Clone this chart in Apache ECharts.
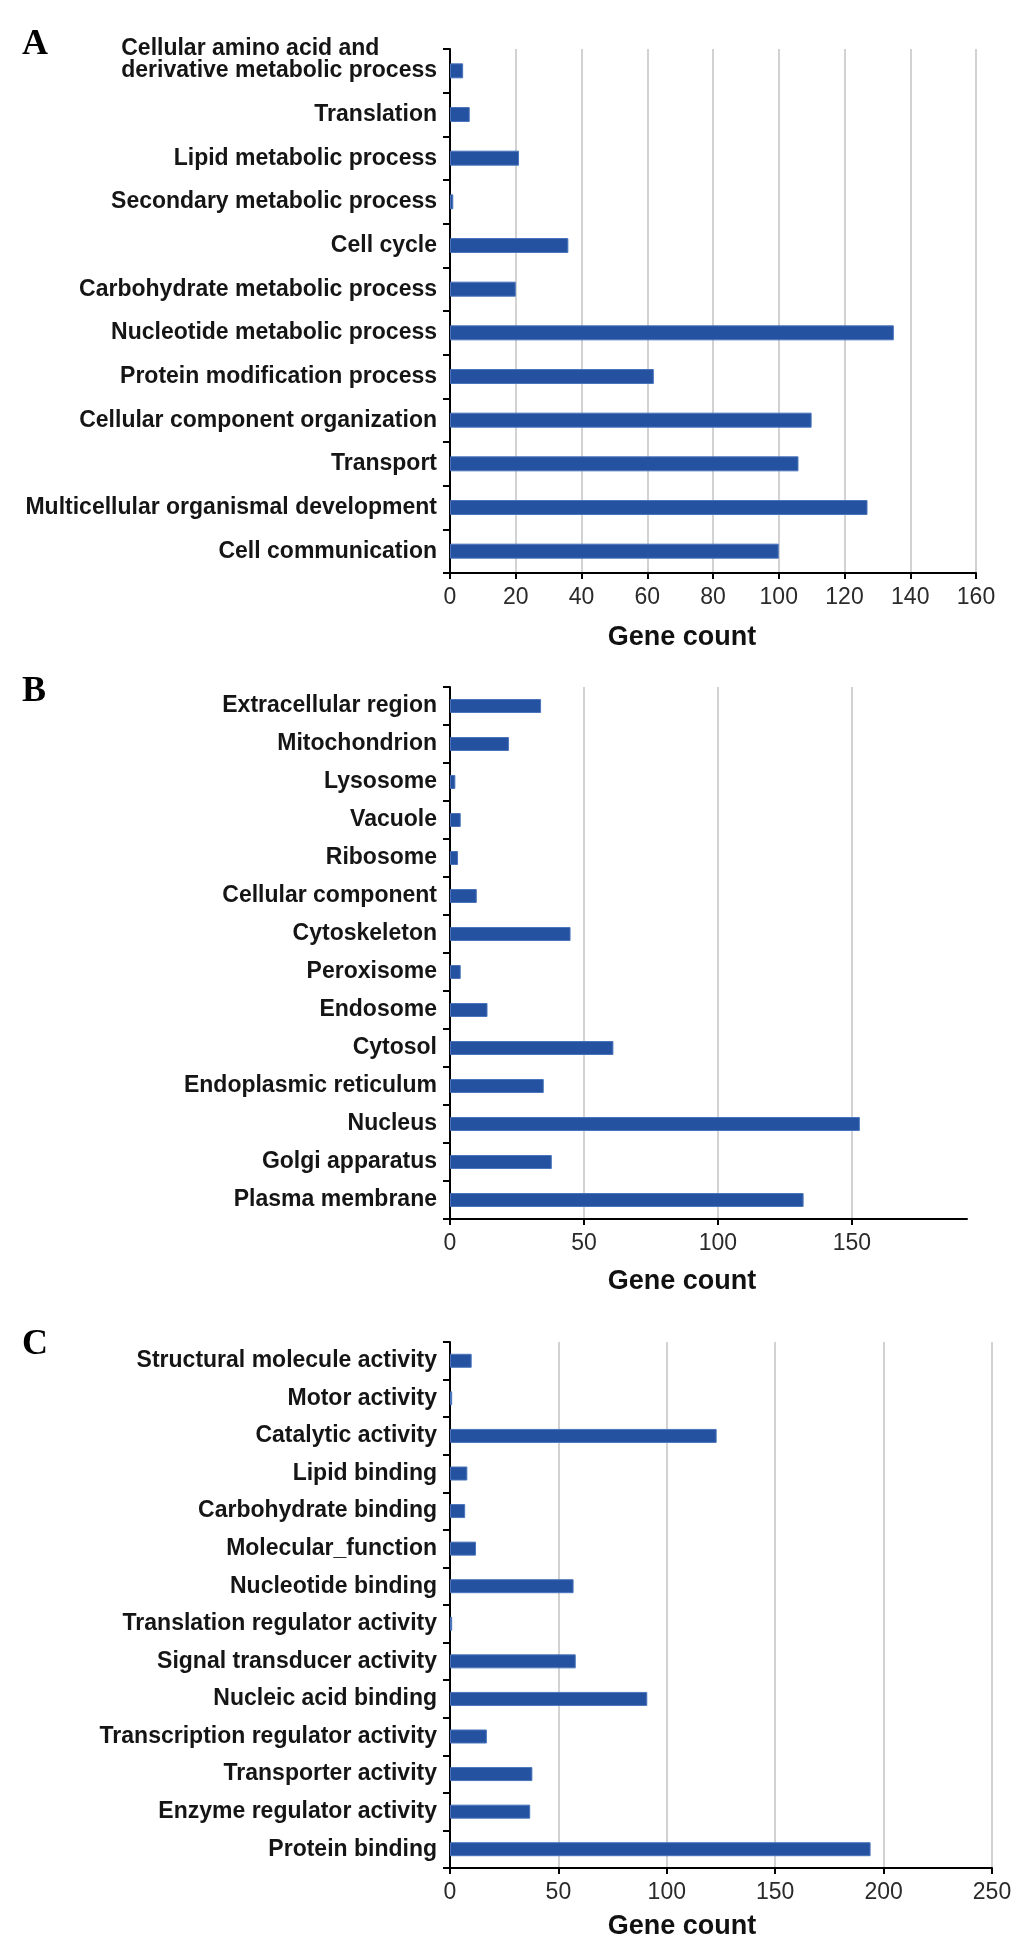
<!DOCTYPE html>
<html>
<head>
<meta charset="utf-8">
<script src="https://cdn.jsdelivr.net/npm/echarts@6/dist/echarts.min.js"></script>
<style>
html, body { margin: 0; padding: 0; background: #fff; }
#chart { width: 1033px; height: 1941px; }
</style>
</head>
<body>
<div id="chart"></div>
<script>
// panel A - biological process
var processNames = [
    'Cellular amino acid and\nderivative metabolic process',
    'Translation',
    'Lipid metabolic process',
    'Secondary metabolic process',
    'Cell cycle',
    'Carbohydrate metabolic process',
    'Nucleotide metabolic process',
    'Protein modification process',
    'Cellular component organization',
    'Transport',
    'Multicellular organismal development',
    'Cell communication'
];
var processCounts = [4, 6, 21, 1, 36, 20, 135, 62, 110, 106, 127, 100];

// panel B - cellular component
var componentNames = [
    'Extracellular region',
    'Mitochondrion',
    'Lysosome',
    'Vacuole',
    'Ribosome',
    'Cellular component',
    'Cytoskeleton',
    'Peroxisome',
    'Endosome',
    'Cytosol',
    'Endoplasmic reticulum',
    'Nucleus',
    'Golgi apparatus',
    'Plasma membrane'
];
var componentCounts = [34, 22, 2, 4, 3, 10, 45, 4, 14, 61, 35, 153, 38, 132];

// panel C - molecular function
var functionNames = [
    'Structural molecule activity',
    'Motor activity',
    'Catalytic activity',
    'Lipid binding',
    'Carbohydrate binding',
    'Molecular_function',
    'Nucleotide binding',
    'Translation regulator activity',
    'Signal transducer activity',
    'Nucleic acid binding',
    'Transcription regulator activity',
    'Transporter activity',
    'Enzyme regulator activity',
    'Protein binding'
];
var functionCounts = [10, 1, 123, 8, 7, 12, 57, 1, 58, 91, 17, 38, 37, 194];

// x axis ranges (tick step, end of axis)
var processAxis = { max: 160, interval: 20 };
var componentAxis = { max: 193, interval: 50 };
var functionAxis = { max: 250, interval: 50 };

var panelLetters = ['A', 'B', 'C'];
var axisTitle = 'Gene count';

var sansFont = '"Liberation Sans", Arial, sans-serif';

var panels = [
    { names: processNames, counts: processCounts, axis: processAxis,
      top: 49, height: 524, width: 526, barWidth: 15, nameGap: 51, namePad: 62, letterY: 45, showMax: true },
    { names: componentNames, counts: componentCounts, axis: componentAxis,
      top: 687, height: 532, width: 517, barWidth: 14, nameGap: 49, namePad: 53, letterY: 692, showMax: false },
    { names: functionNames, counts: functionCounts, axis: functionAxis,
      top: 1342, height: 527, width: 542, barWidth: 14, nameGap: 45, namePad: 78, letterY: 1345, showMax: true }
];

function categoryLabel(value) {
    if (value.indexOf('\n') >= 0) {
        var parts = value.split('\n');
        return '{first|' + parts[0] + '}\n{second|' + parts[1] + '}';
    }
    return value;
}

var grids = [], xAxes = [], yAxes = [], series = [], graphics = [];

panels.forEach(function (p, i) {
    grids.push({ left: 450, top: p.top, width: p.width, height: p.height });

    xAxes.push({
        gridIndex: i,
        type: 'value',
        min: 0,
        max: p.axis.max,
        interval: p.axis.interval,
        axisLine: { show: true, lineStyle: { color: '#000', width: 2 } },
        axisTick: { show: true, length: 6, lineStyle: { color: '#000', width: 2 } },
        axisLabel: {
            fontSize: 23, fontFamily: sansFont, color: '#2a2a2a', margin: 13,
            showMaxLabel: p.showMax
        },
        splitLine: {
            show: true, showMinLine: false, showMaxLine: p.showMax,
            lineStyle: { color: '#d2d2d2', width: 2 }
        },
        name: axisTitle,
        nameLocation: 'middle',
        nameGap: p.nameGap,
        nameTextStyle: {
            fontSize: 27, fontWeight: 'bold', fontFamily: sansFont, color: '#111',
            padding: [0, p.namePad, 0, 0]
        }
    });

    yAxes.push({
        gridIndex: i,
        type: 'category',
        inverse: true,
        data: p.names,
        axisLine: { show: true, lineStyle: { color: '#000', width: 2 } },
        axisTick: { show: true, length: 7, lineStyle: { color: '#000', width: 2 } },
        axisLabel: {
            interval: 0,
            hideOverlap: false,
            fontSize: 23, fontWeight: 'bold', fontFamily: sansFont, color: '#151515', margin: 13,
            lineHeight: 20,
            formatter: categoryLabel,
            rich: {
                first: { fontSize: 23, fontWeight: 'bold', fontFamily: sansFont, color: '#151515',
                         lineHeight: 22, align: 'left' },
                second: { fontSize: 23, fontWeight: 'bold', fontFamily: sansFont, color: '#151515',
                          lineHeight: 44, padding: [0, 0, 22, 0], align: 'left' }
            }
        },
        splitLine: { show: false }
    });

    series.push({
        type: 'bar',
        xAxisIndex: i,
        yAxisIndex: i,
        data: p.counts,
        barWidth: p.barWidth,
        itemStyle: { color: '#2452a0', borderColor: '#4a74bb', borderWidth: 1 },
        silent: true
    });

    graphics.push({
        type: 'text',
        x: 22,
        y: p.letterY,
        style: {
            text: panelLetters[i],
            fill: '#000',
            font: 'bold 36px "Liberation Serif", "Times New Roman", serif',
            textAlign: 'left',
            verticalAlign: 'middle',
            textVerticalAlign: 'middle'
        }
    });
});

var chart = echarts.init(document.getElementById('chart'));
chart.setOption({
    backgroundColor: '#fff',
    animation: false,
    grid: grids,
    xAxis: xAxes,
    yAxis: yAxes,
    series: series,
    graphic: graphics
});
</script>
</body>
</html>
